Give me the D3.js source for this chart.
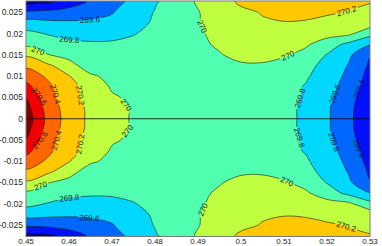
<!DOCTYPE html>
<html><head><meta charset="utf-8">
<script src="https://cdn.jsdelivr.net/npm/d3@7"></script>
<style>
body{margin:0;background:#fff}
svg{display:block}
text{font-family:"Liberation Sans",Arial,Helvetica,sans-serif}
</style>
</head><body>
<svg id="c" width="382" height="246"></svg>
<script>
// ---- data ----
const xGrid = [0.45,0.455,0.46,0.465,0.47,0.475,0.48,0.485,0.49,0.495,0.5,0.505,0.51,0.515,0.52,0.525,0.53];
const yGrid = [0.0275,0.025,0.0225,0.02,0.0175,0.015,0.0125,0.01,0.0075,0.005,0.0025,0,
               -0.0025,-0.005,-0.0075,-0.01,-0.0125,-0.015,-0.0175,-0.02,-0.0225,-0.025,-0.0275];
const zGrid = [
 [269.10,269.16,269.28,269.43,269.53,269.65,269.78,269.90,270.02,270.12,270.23,270.29,270.31,270.30,270.27,270.24,270.21],
 [269.44,269.46,269.50,269.54,269.59,269.70,269.81,269.91,269.99,270.10,270.16,270.21,270.25,270.25,270.22,270.19,270.15],
 [269.68,269.65,269.63,269.63,269.65,269.70,269.84,269.94,269.99,270.07,270.15,270.18,270.19,270.18,270.15,270.12,270.10],
 [269.85,269.79,269.74,269.72,269.74,269.79,269.86,269.92,269.98,270.04,270.10,270.14,270.15,270.12,270.07,270.04,269.86],
 [269.96,269.90,269.85,269.83,269.83,269.85,269.90,269.94,269.97,270.02,270.08,270.10,270.08,270.03,269.90,269.75,269.61],
 [270.17,270.01,269.94,269.90,269.88,269.88,269.90,269.93,269.96,269.99,270.04,270.05,270.02,269.94,269.79,269.64,269.41],
 [270.36,270.24,270.07,269.90,269.90,269.90,269.91,269.92,269.94,269.96,269.98,269.98,269.93,269.86,269.74,269.59,269.37],
 [270.52,270.37,270.21,270.03,269.95,269.94,269.93,269.93,269.93,269.93,269.92,269.90,269.86,269.82,269.72,269.55,269.33],
 [270.66,270.45,270.27,270.12,269.98,269.96,269.95,269.94,269.93,269.92,269.90,269.88,269.85,269.79,269.69,269.50,269.31],
 [270.79,270.50,270.26,270.15,270.02,269.97,269.96,269.95,269.93,269.91,269.89,269.86,269.83,269.79,269.66,269.46,269.29],
 [270.87,270.53,270.30,270.16,270.07,269.98,269.97,269.95,269.93,269.91,269.89,269.86,269.83,269.78,269.63,269.44,269.28],
 [270.92,270.55,270.31,270.16,270.07,269.98,269.97,269.95,269.93,269.91,269.89,269.86,269.83,269.78,269.63,269.44,269.27],
 [270.87,270.53,270.30,270.16,270.07,269.98,269.97,269.95,269.93,269.91,269.89,269.86,269.83,269.78,269.63,269.44,269.28],
 [270.79,270.50,270.26,270.15,270.02,269.97,269.96,269.95,269.93,269.91,269.89,269.86,269.83,269.79,269.66,269.46,269.29],
 [270.66,270.45,270.27,270.12,269.98,269.96,269.95,269.94,269.93,269.92,269.90,269.88,269.85,269.79,269.69,269.50,269.31],
 [270.52,270.37,270.21,270.03,269.95,269.94,269.93,269.93,269.93,269.93,269.92,269.90,269.86,269.82,269.72,269.55,269.33],
 [270.36,270.24,270.07,269.90,269.90,269.90,269.91,269.92,269.94,269.96,269.98,269.98,269.93,269.86,269.74,269.59,269.37],
 [270.17,270.01,269.94,269.90,269.88,269.88,269.90,269.93,269.96,269.99,270.04,270.05,270.02,269.94,269.79,269.64,269.41],
 [269.96,269.90,269.85,269.83,269.83,269.85,269.90,269.94,269.97,270.02,270.08,270.10,270.08,270.03,269.90,269.75,269.61],
 [269.85,269.79,269.74,269.72,269.74,269.79,269.86,269.92,269.98,270.04,270.10,270.14,270.15,270.12,270.07,270.04,269.86],
 [269.68,269.65,269.63,269.63,269.65,269.70,269.84,269.94,269.99,270.07,270.15,270.18,270.19,270.18,270.15,270.12,270.10],
 [269.44,269.46,269.50,269.54,269.59,269.70,269.81,269.91,269.99,270.10,270.16,270.21,270.25,270.25,270.22,270.19,270.15],
 [269.10,269.16,269.28,269.43,269.53,269.65,269.78,269.90,270.02,270.12,270.23,270.29,270.31,270.30,270.27,270.24,270.21]
];
const levels = [269.2,269.4,269.6,269.8,270.0,270.2,270.4,270.6,270.8];
const bandColors = ["#00008c","#0010ff","#0068ff","#00d8ff","#50ffb0","#c0ff40","#ffc800","#ff6800","#f00000","#800000"];
const levelText = ["269.2","269.4","269.6","269.8","270","270.2","270.4","270.6","270.8"];
const xTicks = [0.45,0.46,0.47,0.48,0.49,0.5,0.51,0.52,0.53];
const yTicks = [0.025,0.02,0.015,0.01,0.005,0,-0.005,-0.01,-0.015,-0.02,-0.025];
const xDomain = [0.45,0.53];
const yDomain = [-0.0277,0.0277];
const labelAnchors = [
 {level:269.6,x:0.4649,y:0.0228},{level:269.8,x:0.4600,y:0.0179},{level:270.0,x:0.4528,y:0.0160},
 {level:270.6,x:0.4530,y:0.0052},{level:270.4,x:0.4565,y:0.0057},{level:270.2,x:0.4621,y:0.0054},
 {level:270.0,x:0.4728,y:0.0029},
 {level:270.6,x:0.4530,y:-0.0049},{level:270.4,x:0.4565,y:-0.0049},{level:270.2,x:0.4616,y:-0.0058},
 {level:270.0,x:0.4728,y:-0.0023},
 {level:270.0,x:0.4533,y:-0.0156},{level:269.8,x:0.4600,y:-0.0180},{level:269.6,x:0.4647,y:-0.0234},
 {level:270.0,x:0.4907,y:0.0216},{level:270.0,x:0.4907,y:-0.0212},
 {level:270.0,x:0.5109,y:0.0148},{level:270.2,x:0.5247,y:0.0249},
 {level:270.0,x:0.5107,y:-0.0147},{level:270.2,x:0.5247,y:-0.0245},
 {level:269.8,x:0.5142,y:0.0047},{level:269.8,x:0.5137,y:-0.0044},
 {level:269.6,x:0.5221,y:0.0057},{level:269.6,x:0.5221,y:-0.0053},
 {level:269.4,x:0.5270,y:0.0071},{level:269.4,x:0.5272,y:-0.0070}
];

// ---- layout ----
const W = 382, H = 246;
const plot = {l:26, r:370, t:1, b:236.5};
const svg = d3.select("#c");
const x = d3.scaleLinear().domain(xDomain).range([plot.l, plot.r]);
const y = d3.scaleLinear().domain(yDomain).range([plot.b, plot.t]);

const defs = svg.append("defs");
defs.append("clipPath").attr("id","clip").append("rect")
  .attr("x",plot.l).attr("y",plot.t).attr("width",plot.r-plot.l).attr("height",plot.b-plot.t);

const nx = xGrid.length, ny = yGrid.length;
const values = zGrid.flat();
const stepX = xGrid[1]-xGrid[0], stepY = yGrid[0]-yGrid[1];
const gx = c => x(xGrid[0] + (c-0.5)*stepX);
const gy = r => y(yGrid[0] - (r-0.5)*stepY);
const contours = d3.contours().size([nx, ny]).thresholds(levels)(values);
const ringsPx = mp => mp.coordinates.flatMap(poly => poly.map(ring => ring.slice(0,-1).map(([c,r]) => [gx(c), gy(r)])));
const ringLine = d3.line().curve(d3.curveCatmullRomClosed.alpha(0.5));
const allRings = contours.map(ringsPx);

const plotG = svg.append("g").attr("clip-path","url(#clip)");
plotG.append("rect").attr("x",plot.l).attr("y",plot.t).attr("width",plot.r-plot.l).attr("height",plot.b-plot.t)
  .attr("fill",bandColors[0]);
plotG.selectAll("path.fill").data(allRings).join("path").attr("class","fill")
  .attr("d",rs => rs.map(r => ringLine(r)).join(""))
  .attr("fill",(d,i) => bandColors[i+1]).attr("stroke","none");

// ---- labels positions ----
const measure = svg.append("text").attr("font-size",8).attr("opacity",0);
const labels = labelAnchors.map(a => {
  const idx = levels.indexOf(a.level);
  const ax = x(a.x), ay = y(a.y);
  let best = null, bd = Infinity;
  allRings[idx].forEach(r => {
    const n = r.length;
    for (let i=0;i<n;i++){
      const p = r[i], q = r[(i+1)%n];
      const vx = q[0]-p[0], vy = q[1]-p[1];
      const L2 = vx*vx+vy*vy || 1e-9;
      let t = ((ax-p[0])*vx + (ay-p[1])*vy)/L2; t = Math.max(0,Math.min(1,t));
      const px = p[0]+t*vx, py = p[1]+t*vy;
      const d = (px-ax)**2+(py-ay)**2;
      if (d<bd){bd=d;best={px,py,vx,vy};}
    }
  });
  let ang = Math.atan2(best.vy,best.vx)*180/Math.PI;
  if (ang > 90) ang -= 180; if (ang <= -90) ang += 180;
  const txt = levelText[idx];
  measure.text(txt);
  const w = measure.node().getComputedTextLength();
  return {x:best.px, y:best.py, ang, txt, w};
});
measure.remove();

const mask = defs.append("mask").attr("id","lm").attr("maskUnits","userSpaceOnUse")
  .attr("x",0).attr("y",0).attr("width",W).attr("height",H);
mask.append("rect").attr("x",0).attr("y",0).attr("width",W).attr("height",H).attr("fill","#fff");
mask.selectAll("rect.h").data(labels).join("rect").attr("class","h")
  .attr("x",d => -d.w/2-1.5).attr("y",-4).attr("width",d => d.w+3).attr("height",8)
  .attr("transform",d => `translate(${d.x},${d.y}) rotate(${d.ang})`).attr("fill","#000");

const lineG = plotG.append("g").attr("mask","url(#lm)");
lineG.selectAll("path").data(allRings).join("path")
  .attr("d",rs => rs.map(r => ringLine(r)).join(""))
  .attr("fill","none").attr("stroke","#1a1a1a").attr("stroke-width",0.6);

// zero line
plotG.append("line").attr("x1",plot.l).attr("x2",plot.r).attr("y1",y(0)).attr("y2",y(0))
  .attr("stroke","#000").attr("stroke-width",0.8);

plotG.selectAll("text.cl").data(labels).join("text").attr("class","cl")
  .attr("transform",d => `translate(${d.x},${d.y}) rotate(${d.ang})`)
  .attr("text-anchor","middle").attr("dy","0.35em")
  .attr("font-size",8).attr("fill","#1a1a1a").text(d => d.txt);

// ---- frame & axes ----
svg.append("rect").attr("x",plot.l).attr("y",plot.t).attr("width",plot.r-plot.l).attr("height",plot.b-plot.t)
  .attr("fill","none").attr("stroke","#7a7a7a").attr("stroke-width",1);

const fmt = v => String(+v.toFixed(4));
svg.selectAll("text.yt").data(yTicks).join("text").attr("class","yt")
  .attr("x",plot.l-3).attr("y",d => y(d)).attr("dy","0.35em").attr("text-anchor","end")
  .attr("font-size",8.5).attr("fill","#262626").text(fmt);
svg.selectAll("text.xt").data(xTicks).join("text").attr("class","xt")
  .attr("x",d => x(d)).attr("y",241.2).attr("dy","0.35em").attr("text-anchor","middle")
  .attr("font-size",8).attr("fill","#262626").text(fmt);
</script>
</body></html>
